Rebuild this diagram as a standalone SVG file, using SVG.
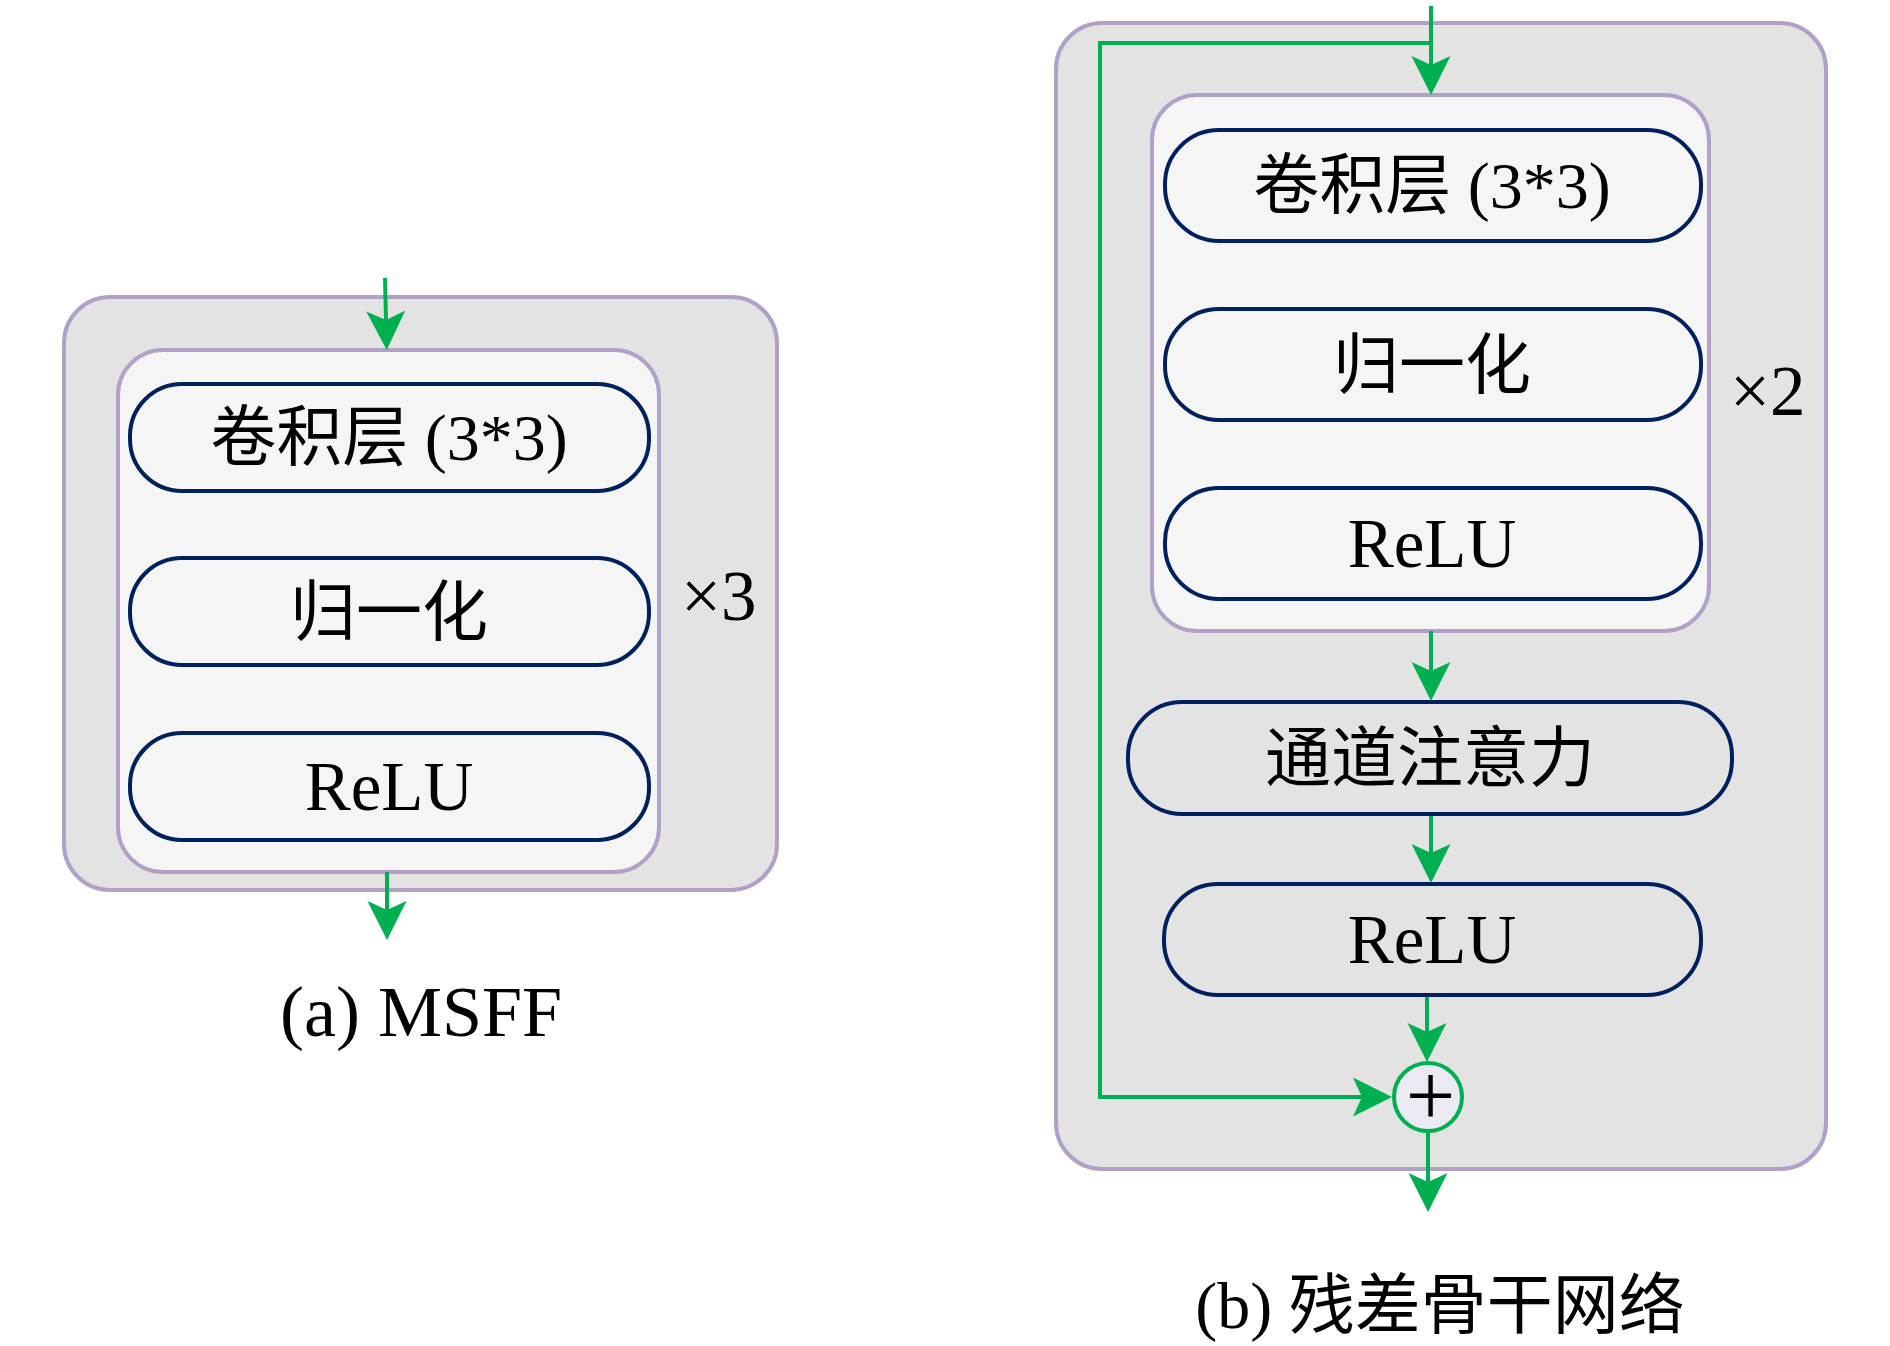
<svg xmlns="http://www.w3.org/2000/svg" width="1890" height="1346" viewBox="0 0 1890 1346">
<style>
.outer{fill:#e3e3e3;stroke:#b1a0c7;stroke-width:4}
.inner{fill:#f5f5f5;stroke:#b1a0c7;stroke-width:4}
.node{fill:#f5f5f5;stroke:#002060;stroke-width:4}
.nodeg{fill:#e3e3e3;stroke:#002060;stroke-width:4}
.lbl{font-family:"Liberation Serif","Noto Sans CJK SC",serif;font-size:66px;fill:#000;text-anchor:middle}
.lat{font-size:69px}
.mul{font-family:"Liberation Serif","Noto Sans CJK SC",serif;font-size:71px;fill:#000}
.edge{fill:none;stroke:#00b050;stroke-width:4;marker-end:url(#ah)}
</style>
<defs>
<marker id="ah" markerUnits="userSpaceOnUse" viewBox="0 -20 40 40" markerWidth="40" markerHeight="40" refX="9" refY="0" orient="auto">
<path d="M0,-19.5 L39,0 L0,19.5 L9,0 Z" fill="#00b050"/>
</marker>
</defs>
<rect width="1890" height="1346" fill="#ffffff"/>

<g id="panel-a">
<rect id="a-outer" class="outer" x="64" y="297" width="713" height="593" rx="46"/>
<rect id="a-inner" class="inner" x="118" y="350" width="541" height="522" rx="45"/>
</g>

<g id="panel-b">
<rect id="b-outer" class="outer" x="1056" y="23" width="770" height="1146" rx="46"/>
<rect id="b-inner" class="inner" x="1152" y="95" width="557" height="536" rx="45"/>
</g>

<g id="connectors">
<line class="edge" x1="385" y1="278" x2="386" y2="320"/>
<line class="edge" x1="387" y1="872" x2="387" y2="910"/>
<line class="edge" x1="1431" y1="6" x2="1431" y2="65"/>
<polyline class="edge" points="1431,43 1100,43 1100,1097 1362,1097"/>
<line class="edge" x1="1431" y1="631" x2="1431" y2="671"/>
<line class="edge" x1="1431" y1="815" x2="1431" y2="853"/>
<line class="edge" x1="1427" y1="995" x2="1427" y2="1032"/>
<line class="edge" x1="1428" y1="1131" x2="1428" y2="1182"/>
</g>

<g id="a-conv">
<rect class="node" x="130" y="384" width="519" height="107" rx="52"/>
<text class="lbl" x="389" y="460">卷积层 (3*3)</text>
</g>
<g id="a-norm">
<rect class="node" x="130" y="558" width="519" height="107" rx="52"/>
<text class="lbl" x="389" y="635">归一化</text>
</g>
<g id="a-relu">
<rect class="node" x="130" y="733" width="519" height="107" rx="52"/>
<text class="lbl lat" x="389" y="810">ReLU</text>
</g>
<g id="a-times">
<text class="mul" x="681" y="620">×3</text>
</g>

<g id="b-conv">
<rect class="node" x="1165" y="130" width="536" height="111" rx="54"/>
<text class="lbl" x="1432" y="208">卷积层 (3*3)</text>
</g>
<g id="b-norm">
<rect class="node" x="1165" y="309" width="536" height="111" rx="54"/>
<text class="lbl" x="1432" y="388">归一化</text>
</g>
<g id="b-relu1">
<rect class="node" x="1165" y="488" width="536" height="111" rx="54"/>
<text class="lbl lat" x="1432" y="567">ReLU</text>
</g>
<g id="b-times">
<text class="mul" x="1730" y="415">×2</text>
</g>
<g id="b-attn">
<rect class="nodeg" x="1128" y="702" width="604" height="112" rx="54"/>
<text class="lbl" x="1430" y="781">通道注意力</text>
</g>
<g id="b-relu2">
<rect class="nodeg" x="1164" y="884" width="537" height="111" rx="54"/>
<text class="lbl lat" x="1432" y="963">ReLU</text>
</g>
<g id="b-sum">
<circle cx="1428" cy="1097" r="34" fill="#ebe9f1" stroke="#00b050" stroke-width="4"/>
<text x="1430.5" y="1125" font-family="Liberation Serif,serif" font-size="88" text-anchor="middle" fill="#000">+</text>
</g>

<g id="captions">
<text class="lbl" x="421" y="1036" style="font-size:72px">(a) MSFF</text>
<text class="lbl" x="1440" y="1328">(b) 残差骨干网络</text>
</g>
</svg>
